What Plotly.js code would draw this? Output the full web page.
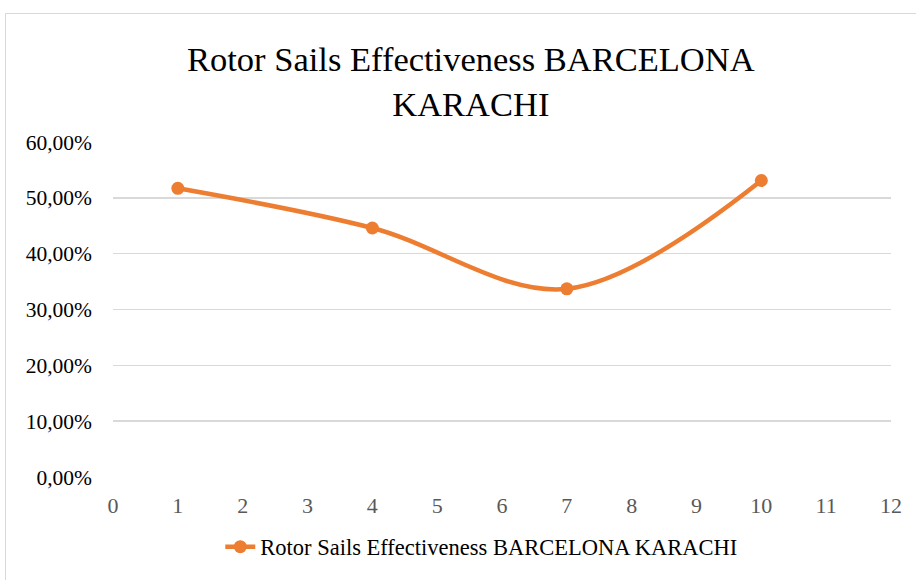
<!DOCTYPE html>
<html>
<head>
<meta charset="utf-8">
<script src="https://cdn.plot.ly/plotly-3.0.1.min.js"></script>
<style>
  html, body { margin: 0; padding: 0; overflow: hidden; background: #ffffff; }
  #frame { position: absolute; left: 5px; top: 13px; width: 1000px; height: 1000px;
           border: 1px solid #d9d9d9; pointer-events: none; }
</style>
</head>
<body>
<div id="chart" style="position:absolute; top:0; left:0; width:916px; height:580px;"></div>
<div id="frame"></div>
<script>
const seriesName = "Rotor Sails Effectiveness BARCELONA KARACHI";
const xValues = [1, 4, 7, 10];
const effectiveness = [0.517, 0.446, 0.337, 0.531];
const xTicks = [0, 1, 2, 3, 4, 5, 6, 7, 8, 9, 10, 11, 12];
const yTicks = [0, 0.1, 0.2, 0.3, 0.4, 0.5, 0.6];

const trace = {
  x: xValues,
  y: effectiveness,
  name: seriesName,
  type: 'scatter',
  mode: 'lines+markers',
  line: { color: '#ED7D31', width: 4.5, shape: 'spline', smoothing: 1 },
  marker: { color: '#ED7D31', size: 13 }
};

const layout = {
  width: 916,
  height: 580,
  paper_bgcolor: '#ffffff',
  plot_bgcolor: '#ffffff',
  separators: ', ',
  margin: { l: 113, r: 25, t: 142, b: 98 },
  font: { family: 'Liberation Serif' },
  title: {
    text: 'Rotor Sails Effectiveness BARCELONA<br>KARACHI',
    font: { family: 'Liberation Serif', size: 34.5, color: '#000000' },
    xref: 'container', x: 0.514, xanchor: 'center',
    yref: 'container', y: 0.878, yanchor: 'top'
  },
  xaxis: {
    range: [0, 12],
    tickvals: xTicks,
    ticktext: xTicks.map(String),
    showgrid: false,
    zeroline: false,
    showline: false,
    ticks: '',
    ticklabelstandoff: 13,
    tickfont: { family: 'Liberation Serif', size: 22, color: '#595959' },
    fixedrange: true
  },
  yaxis: {
    range: [0, 0.6],
    tickvals: yTicks,
    tickformat: '.2%',
    showgrid: true,
    gridcolor: '#d9d9d9',
    gridwidth: 1.5,
    zeroline: false,
    showline: false,
    ticks: '',
    ticklabelstandoff: 20,
    tickfont: { family: 'Liberation Serif', size: 21.5, color: '#000000' },
    fixedrange: true
  },
  showlegend: true,
  legend: {
    orientation: 'h',
    x: 0.474, xanchor: 'center',
    y: -0.209, yanchor: 'middle',
    font: { family: 'Liberation Serif', size: 22.5, color: '#000000' },
    bgcolor: 'rgba(0,0,0,0)'
  }
};

Plotly.newPlot('chart', [trace], layout, { displayModeBar: false, staticPlot: true });
</script>
</body>
</html>
